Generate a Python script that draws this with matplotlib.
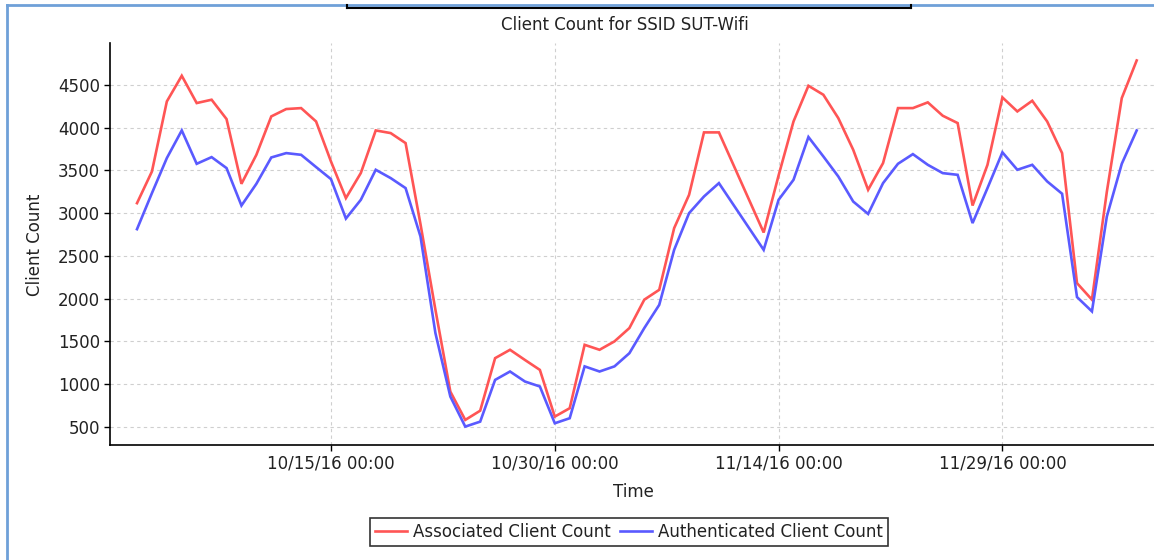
import matplotlib
matplotlib.use("Agg")
import matplotlib.pyplot as plt
import matplotlib.dates as mdates
from matplotlib.lines import Line2D
import pandas as pd

# ---- data ----
dates = (list(pd.date_range("2016-10-02", "2016-11-10", freq="D")) +
         list(pd.date_range("2016-11-13", "2016-12-08", freq="D")))

associated = [3116, 3486, 4305, 4605, 4286, 4325, 4099, 3342, 3681, 4130,
              4216, 4227, 4071, 3603, 3175, 3468, 3966, 3935, 3818, 2870,
              1870, 913, 582, 690, 1304, 1402, 1283, 1167, 621, 719,
              1460, 1402, 1500, 1656, 1988, 2103, 2824, 3213, 3943, 3943,
              2773, 3440, 4071, 4488, 4383, 4110, 3740, 3272, 3584, 4227,
              4227, 4294, 4138, 4052, 3088, 3564, 4352, 4188, 4313, 4071,
              3701, 2181, 1988, 3250, 4344, 4784]

authenticated = [2812, 3233, 3643, 3966, 3576, 3654, 3526, 3088, 3342, 3650,
                 3701, 3681, 3538, 3397, 2936, 3155, 3506, 3409, 3292, 2726,
                 1597, 855, 504, 562, 1050, 1148, 1031, 973, 543, 602,
                 1208, 1148, 1208, 1362, 1656, 1927, 2570, 2999, 3194, 3350,
                 2570, 3155, 3389, 3889, 3662, 3428, 3135, 2990, 3350, 3576,
                 3689, 3564, 3467, 3447, 2883, 3292, 3710, 3506, 3564, 3370,
                 3226, 2018, 1851, 2960, 3576, 3966]

tick_dates = ["2016-10-15", "2016-10-30", "2016-11-14", "2016-11-29"]
y_ticks = [500, 1000, 1500, 2000, 2500, 3000, 3500, 4000, 4500]

series_names = ["Associated Client Count", "Authenticated Client Count"]
title = "Client Count for SSID SUT-Wifi"

# ---- figure ----
W, H = 1154, 560
FS = 12
fig = plt.figure(figsize=(W / 100, H / 100), dpi=100)
plt.rcParams['font.family'] = ['DejaVu Sans']

ax = fig.add_axes([110 / W, 1 - 445 / H, (1154 - 110) / W, (445 - 43) / H])

l1, = ax.plot(dates, associated, color="#ff5555", lw=1.9, solid_joinstyle="miter")
l2, = ax.plot(dates, authenticated, color="#5a5aff", lw=1.9, solid_joinstyle="miter")

ref = mdates.date2num(pd.Timestamp("2016-10-15"))
ax.set_xlim(ref - 14.81, ref + 55.16)
ax.set_ylim(289, 4988)

ax.set_xticks([pd.Timestamp(d) for d in tick_dates])
ax.xaxis.set_major_formatter(mdates.DateFormatter("%m/%d/%y %H:%M"))
ax.set_yticks(y_ticks)

ax.grid(True, color="#cfcfcf", linestyle=(0, (3, 3)), lw=0.8)
ax.set_axisbelow(True)
for s in ["top", "right"]:
    ax.spines[s].set_visible(False)
for s in ["left", "bottom"]:
    ax.spines[s].set_color("black")
    ax.spines[s].set_linewidth(1.2)
ax.tick_params(axis="both", direction="out", length=4, width=1,
               labelsize=FS, colors="black", labelcolor="#222222", pad=3)

fig.text(625 / W, 1 - 25 / H, title, ha="center", va="center",
         fontsize=FS, color="#222222")
fig.text(633 / W, 1 - 492 / H, "Time", ha="center", va="center",
         fontsize=FS, color="#222222")
fig.text(35 / W, 1 - 245 / H, "Client Count", ha="center", va="center",
         rotation=90, fontsize=FS, color="#222222")

leg = fig.legend([l1, l2], series_names, loc="center",
                 bbox_to_anchor=(629 / W, 1 - 532 / H), ncol=2,
                 fancybox=False, frameon=True, edgecolor="black",
                 fontsize=FS, handlelength=1.9, handletextpad=0.35,
                 columnspacing=0.6, borderpad=0.3, borderaxespad=0)
leg.get_frame().set_linewidth(1.2)
for t in leg.get_texts():
    t.set_color("#222222")

# panel decorations (light blue frame edges and top box)
fc = "#6fa0d8"
fig.add_artist(Line2D([7 / W, 7 / W], [0, 1 - 5 / H], color=fc, lw=2, transform=fig.transFigure))
fig.add_artist(Line2D([7 / W, 1], [1 - 5 / H, 1 - 5 / H], color=fc, lw=2, transform=fig.transFigure))
fig.add_artist(Line2D([347 / W, 911 / W], [1 - 7.5 / H, 1 - 7.5 / H], color="black", lw=1.5, transform=fig.transFigure))
fig.add_artist(Line2D([347 / W, 347 / W], [1 - 5 / H, 1 - 8 / H], color="black", lw=1.5, transform=fig.transFigure))
fig.add_artist(Line2D([911 / W, 911 / W], [1 - 5 / H, 1 - 8 / H], color="black", lw=1.5, transform=fig.transFigure))

fig.savefig("out.png", dpi=100)
